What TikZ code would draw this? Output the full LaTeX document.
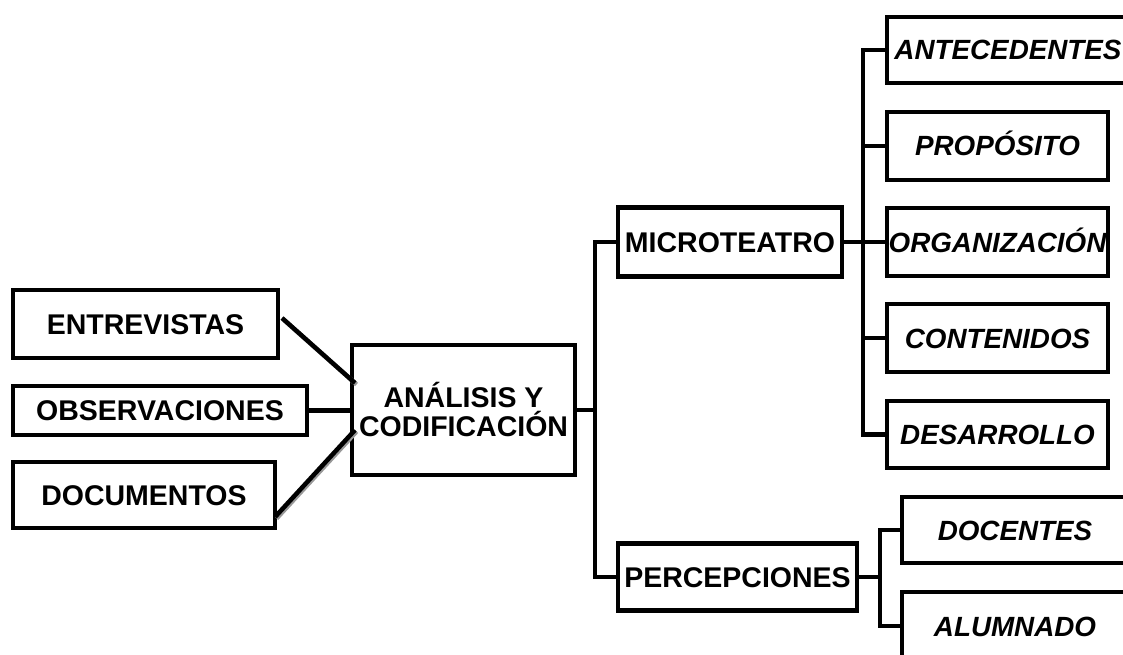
\documentclass[tikz,border=0pt]{standalone}
\usepackage{fontspec}
\setmainfont{Liberation Sans}
\usetikzlibrary{calc}
\tikzset{
  box/.style={draw=black, line width=4.5pt, fill=white, inner sep=0pt, outer sep=0pt,
    font=\fontsize{28.5}{30}\selectfont\bfseries, text height=20.5pt, text depth=0pt, align=center},
  ibox/.style={box, font=\fontsize{27.8}{30}\selectfont\bfseries\itshape, text height=20pt},
  conn/.style={line width=4.5pt, black},
  shadowline/.style={line width=4.5pt, black!40},
}
\begin{document}
\begin{tikzpicture}[x=1pt, y=-1pt]
\useasboundingbox (0,0) rectangle (1123,655);
\clip (0,0) rectangle (1123,655);
\fill[white] (0,0) rectangle (1123,655);

% left column
\node[box, minimum width=265pt, minimum height=68pt] (ent) at (145.5,324) {ENTREVISTAS};
\node[box, minimum width=294pt, minimum height=49pt] (obs) at (160,410.5) {OBSERVACIONES};
\node[box, minimum width=262pt, minimum height=66pt] (doc) at (144,495) {DOCUMENTOS};

% centre
\node[draw=black, line width=4.5pt, fill=white, inner sep=0pt, outer sep=0pt,
  font=\fontsize{28.5}{30}\selectfont\bfseries, align=center,
  minimum width=223pt, minimum height=130pt] (ana) at (463.5,410) {ANÁLISIS Y\\[-1pt]CODIFICACIÓN};

% second level
\node[box, minimum width=224pt, minimum height=69pt] (micro) at (730,242) {MICROTEATRO};
\node[box, minimum width=239pt, minimum height=67pt] (perc) at (737.5,577) {PERCEPCIONES};

% third level
\node[ibox, minimum width=242pt, minimum height=66pt] (ante) at (1008,50) {ANTECEDENTES};
\node[ibox, minimum width=221pt, minimum height=68pt] (prop) at (997.5,146) {PROPÓSITO};
\node[ibox, minimum width=221pt, minimum height=68pt] (orga) at (997.5,242) {ORGANIZACIÓN};
\node[ibox, minimum width=221pt, minimum height=68pt] (cont) at (997.5,338) {CONTENIDOS};
\node[ibox, minimum width=221pt, minimum height=67pt] (desa) at (997.5,434.5) {DESARROLLO};
\node[ibox, minimum width=226pt, minimum height=66pt] (doce) at (1015,530) {DOCENTES};
\node[ibox, minimum width=226pt, minimum height=68pt] (alum) at (1015,626) {ALUMNADO};

% junction points
\coordinate (j1) at (595,410);
\coordinate (j2) at (863,242);
\coordinate (j3) at (880,577);

% connectors left -> centre
\draw[shadowline] ($(ent.east)+(5.5,-4.5)$) -- ($(ana.west)+(4.5,-25.5)$);
\draw[shadowline] ($(doc.east)+(1.5,23.5)$) -- ($(ana.west)+(4.5,21.5)$);
\draw[conn] ($(ent.east)+(4,-6)$) -- ($(ana.west)+(3,-27)$);
\draw[conn] (obs.east) -- (obs.east -| ana.west);
\draw[conn] ($(doc.east)+(0,22)$) -- ($(ana.west)+(3,20)$);

% centre -> second level
\draw[conn] (ana.east) -- (j1);
\draw[conn] (micro.west) -| (j1) |- (perc.west);

% microteatro -> items
\draw[conn] (micro.east) -- (orga.west);
\draw[conn] (ante.west) -| (j2) |- (desa.west);
\draw[conn] (prop.west) -- (prop.west -| j2);
\draw[conn] (cont.west) -- (cont.west -| j2);

% percepciones -> items
\draw[conn] (perc.east) -- (j3);
\draw[conn] (doce.west) -| (j3) |- (alum.west);
\end{tikzpicture}
\end{document}
